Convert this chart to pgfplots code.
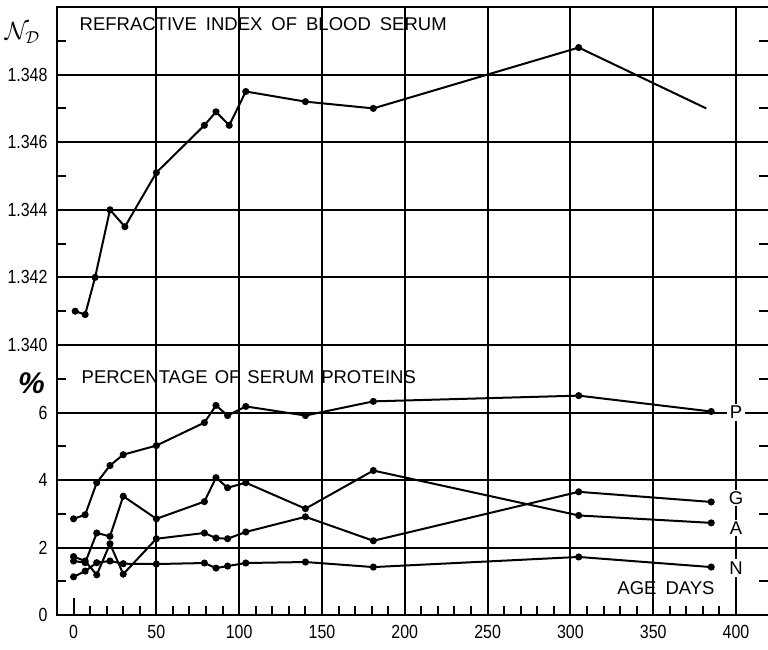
\documentclass[border=0pt]{standalone}
\usepackage{fontspec}
\setmainfont{Liberation Sans}
\newfontfamily\tickfont[FakeStretch=0.84]{Liberation Sans}
\usepackage{pgfplots}
\pgfplotsset{compat=1.18}
\newcommand{\lbl}{\fontsize{18.5}{20}\selectfont}
\begin{document}
\begin{tikzpicture}[x=1pt,y=1pt]
\pgfplotsset{
  common/.style={
    scale only axis, width=711pt, xmin=-10, xmax=419.3,
    anchor=south west,
    axis line style={draw=none},
    tick align=inside,
    major tick length=17pt, minor tick length=9pt,
    every tick/.style={black, line width=2pt},
    grid style={black, line width=2pt},
    xmajorgrids, ymajorgrids,
    xtick={50,100,150,200,250,300,350,400},
    ytick pos=both,
    scaled y ticks=false, scaled x ticks=false,
    tick label style={font=\tickfont\fontsize{19}{20}\selectfont},
    /pgf/number format/assume math mode=true,
    yticklabel style={xshift=-6pt},
    clip=false,
  },
  ser/.style={black, line width=2pt, mark=*, mark size=2.5pt, mark options={solid}},
}
% ---------------- top panel: refractive index ----------------
\begin{axis}[common, at={(57pt,304pt)}, height=338pt, ymin=1.340, ymax=1.350,
  ytick={1.340,1.342,1.344,1.346,1.348},
  yticklabels={1.340,1.342,1.344,1.346,1.348},
  minor ytick={1.341,1.343,1.345,1.347,1.349},
  xticklabels={}]
\addplot[ser, mark indices={1,...,13}] coordinates {
 (1,1.3410)(7,1.3409)(13,1.3420)(22,1.3440)(31,1.3435)(50,1.3451)
 (79,1.3465)(86,1.3469)(94,1.3465)(104,1.3475)(140,1.3472)(181,1.3470)
 (305,1.3488)(382,1.3470)};
\draw[line width=2.4pt] (rel axis cs:0,0) -- (rel axis cs:0,1) -- (rel axis cs:1,1);
\node[anchor=west, inner sep=0pt, font=\lbl] at (axis cs:3.6,1.34948)
  {REFRACTIVE\hspace{9pt}INDEX\hspace{9pt}OF\hspace{9pt}BLOOD\hspace{9pt}SERUM};
\node[inner sep=0pt] at (axis cs:-31,1.34922) {\fontsize{23}{24}\selectfont$\mathcal{N}_{\mathcal{D}}$};
\end{axis}
% ---------------- bottom panel: serum proteins ----------------
\begin{axis}[common, at={(57pt,34pt)}, height=270pt, ymin=0, ymax=8,
  ytick={0,2,4,6}, yticklabels={0,2,4,6},
  minor ytick={1,3,5,7},
  xtick pos=bottom,
  xticklabels={50,100,150,200,250,300,350,400},
  extra x ticks={0}, extra x tick labels={0},
  extra x tick style={grid=none},
  minor xtick={10,20,...,390},
  xticklabel style={yshift=-7pt}]
% P
\addplot[ser] coordinates {
 (0,2.85)(7,2.97)(14,3.92)(22,4.43)(30,4.75)(50,5.02)(79,5.70)(86,6.21)
 (93,5.91)(104,6.18)(140,5.91)(181,6.33)(305,6.50)(385,6.03)};
% A
\addplot[ser] coordinates {
 (0,1.60)(7,1.55)(14,2.43)(22,2.33)(30,3.52)(50,2.85)(79,3.36)(86,4.07)
 (93,3.77)(104,3.92)(140,3.15)(181,4.28)(305,2.95)(385,2.73)};
% G
\addplot[ser] coordinates {
 (0,1.73)(7,1.60)(14,1.19)(22,2.11)(30,1.21)(50,2.26)(79,2.43)(86,2.28)
 (93,2.26)(104,2.46)(140,2.91)(181,2.20)(305,3.65)(385,3.35)};
% N
\addplot[ser] coordinates {
 (0,1.13)(7,1.30)(14,1.55)(22,1.60)(30,1.52)(50,1.51)(79,1.54)(86,1.39)
 (93,1.45)(104,1.54)(140,1.57)(181,1.42)(305,1.72)(385,1.42)};
\draw[line width=2.4pt] (rel axis cs:0,1) -- (rel axis cs:0,0) -- (rel axis cs:1,0);
\draw[line width=2pt] (rel axis cs:0,1) -- (rel axis cs:1,1);
\node[anchor=west, inner sep=0pt, font=\lbl] at (axis cs:4.8,7.04)
  {PERCENTAGE\hspace{7pt}OF\hspace{7pt}SERUM\hspace{7pt}PROTEINS};
\node[inner sep=0pt, font=\lbl] at (axis cs:357.7,0.80) {AGE\hspace{9pt}DAYS};
\node[fill=white, inner sep=2.5pt, font=\lbl] at (axis cs:400,6.0) {P};
\node[fill=white, inner sep=1.5pt, font=\lbl] at (axis cs:400,3.47) {G};
\node[fill=white, inner sep=1.5pt, font=\lbl] at (axis cs:400,2.58) {A};
\node[fill=white, inner sep=2.5pt, font=\lbl] at (axis cs:400,1.40) {N};
\node[inner sep=0pt] at (axis cs:-25.4,6.86) {\fontsize{30}{30}\selectfont\bfseries\itshape\%};
\end{axis}
\pgfresetboundingbox
\useasboundingbox (0,0) rectangle (768,649);
\end{tikzpicture}
\end{document}
